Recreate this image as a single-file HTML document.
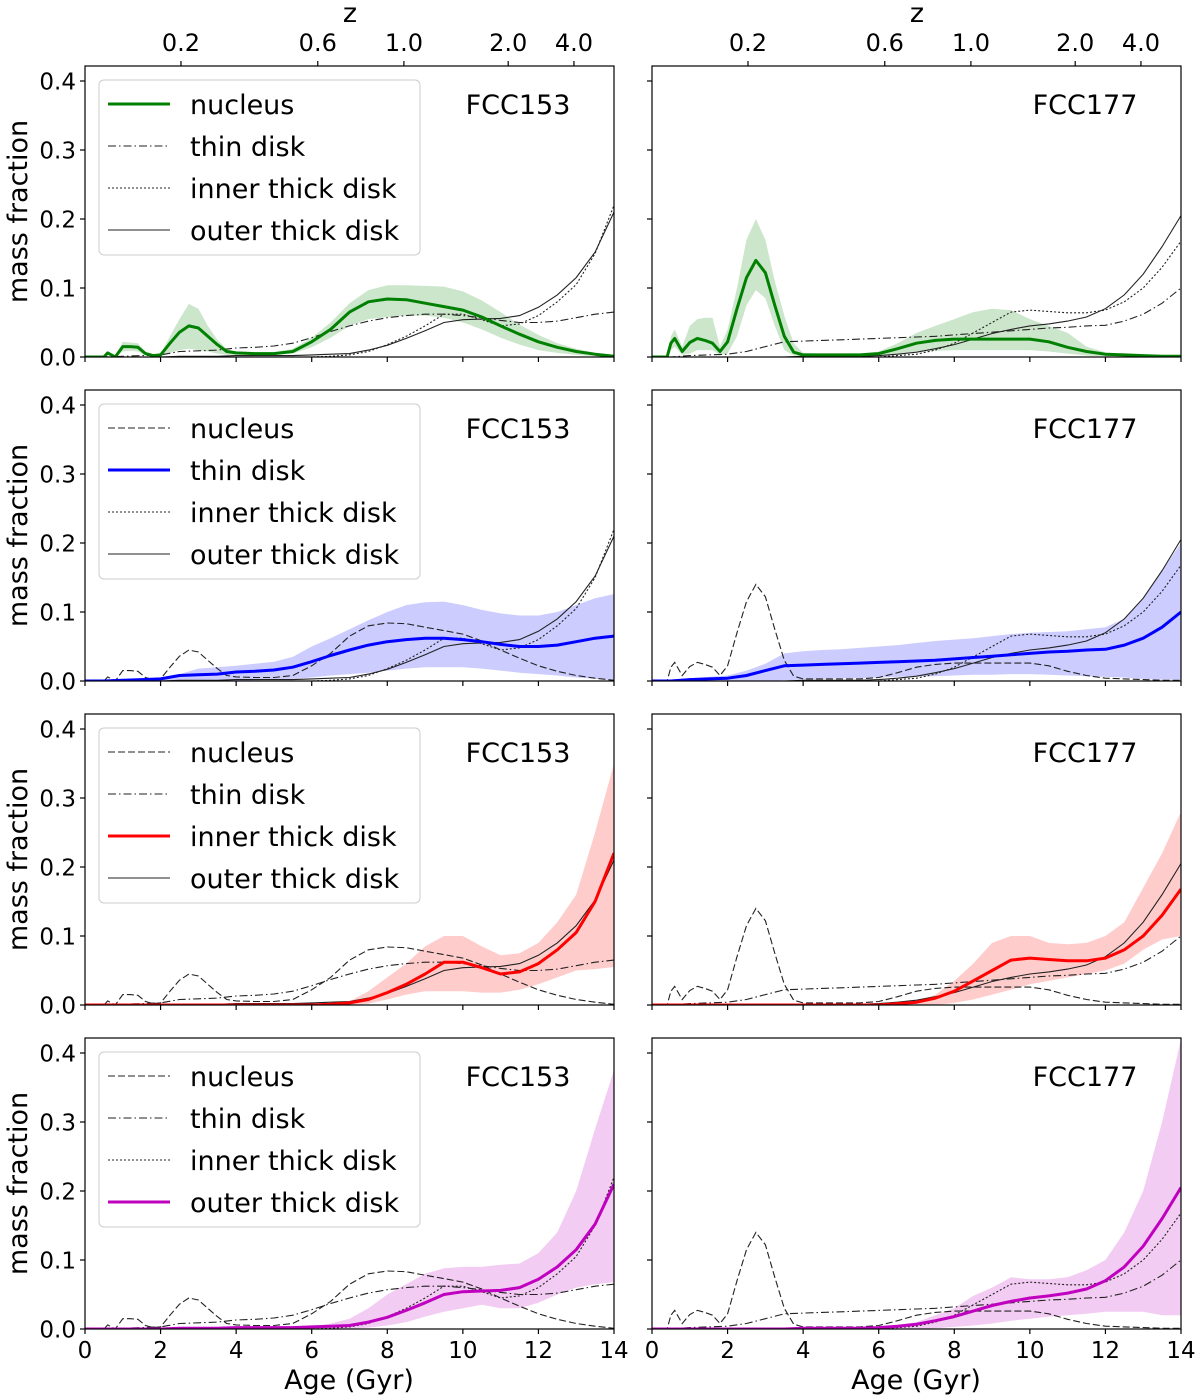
<!DOCTYPE html>
<html><head><meta charset="utf-8"><style>
body{margin:0;background:#fff;}
svg{display:block;font-family:"DejaVu Sans","Liberation Sans",sans-serif;}
</style></head><body>
<svg id="fig" width="1200" height="1399" viewBox="0 0 1200 1399" xmlns="http://www.w3.org/2000/svg"></svg>
<script>
const ageC=[0,0.5,1,1.5,2,2.5,3,3.5,4,4.5,5,5.5,6,6.5,7,7.5,8,8.5,9,9.5,10,10.5,11,11.5,12,12.5,13,13.5,14];
const ageN=[0,0.4,0.5,0.6,0.8,1,1.2,1.4,1.6,1.8,2,2.25,2.5,2.75,3,3.25,3.5,3.75,4,4.5,5,5.5,6,6.5,7,7.5,8,8.5,9,9.5,10,10.5,11,11.5,12,12.5,13,13.5,14];
const nuc153=[0,0,0,0.006,0,0.015,0.015,0.014,0.005,0.002,0.003,0.02,0.036,0.045,0.042,0.03,0.018,0.008,0.006,0.005,0.005,0.008,0.022,0.04,0.065,0.08,0.084,0.083,0.078,0.073,0.068,0.058,0.045,0.033,0.022,0.014,0.008,0.004,0.001];
const nuc153Hi=[0,0,0,0.007,0.001,0.022,0.021,0.02,0.008,0.003,0.005,0.03,0.055,0.077,0.07,0.045,0.025,0.012,0.008,0.007,0.007,0.012,0.028,0.05,0.078,0.097,0.104,0.104,0.103,0.102,0.095,0.082,0.065,0.047,0.032,0.02,0.012,0.006,0.002];
const nuc153Lo=[0,0,0,0.004,0,0.008,0.009,0.008,0.002,0.001,0.001,0.006,0.01,0.012,0.01,0.008,0.005,0.003,0.003,0.003,0.003,0.005,0.014,0.028,0.045,0.055,0.058,0.06,0.06,0.057,0.05,0.04,0.028,0.018,0.01,0.006,0.003,0.001,0];
const nuc177=[0,0,0.02,0.027,0.008,0.021,0.027,0.024,0.02,0.008,0.022,0.07,0.115,0.14,0.122,0.075,0.03,0.007,0.003,0.003,0.003,0.003,0.005,0.012,0.02,0.024,0.026,0.026,0.026,0.026,0.026,0.022,0.014,0.008,0.004,0.003,0.002,0.001,0.001];
const nuc177Hi=[0,0,0.03,0.04,0.015,0.045,0.055,0.057,0.057,0.015,0.04,0.1,0.17,0.2,0.17,0.11,0.06,0.02,0.006,0.005,0.005,0.005,0.008,0.02,0.035,0.045,0.055,0.065,0.07,0.068,0.055,0.045,0.035,0.015,0.007,0.004,0.003,0.002,0.002];
const nuc177Lo=[0,0,0.01,0.015,0.003,0.005,0.01,0.01,0.01,0.003,0.005,0.03,0.075,0.097,0.085,0.045,0.01,0.002,0.001,0.001,0.001,0.001,0.002,0.005,0.008,0.009,0.01,0.01,0.01,0.01,0.01,0.008,0.005,0.002,0.001,0,0,0,0];
const thin153=[0,0,0.001,0.002,0.003,0.008,0.009,0.01,0.013,0.014,0.016,0.02,0.028,0.037,0.045,0.052,0.057,0.06,0.062,0.062,0.06,0.057,0.053,0.05,0.05,0.052,0.057,0.062,0.065];
const thin153Hi=[0,0.001,0.002,0.003,0.005,0.01,0.018,0.02,0.022,0.025,0.028,0.035,0.05,0.062,0.075,0.088,0.1,0.11,0.114,0.115,0.11,0.103,0.098,0.095,0.095,0.1,0.11,0.12,0.126];
const thin153Lo=[0,0,0,0,0,0,0,0,0,0.001,0.002,0.003,0.005,0.008,0.01,0.012,0.015,0.018,0.02,0.02,0.02,0.018,0.015,0.012,0.01,0.008,0.005,0.003,0.001];
const thin177=[0,0,0.002,0.003,0.004,0.008,0.015,0.022,0.023,0.024,0.025,0.026,0.027,0.028,0.029,0.03,0.032,0.034,0.036,0.038,0.04,0.042,0.043,0.045,0.046,0.052,0.062,0.078,0.1];
const thin177Hi=[0,0.002,0.004,0.006,0.008,0.015,0.025,0.04,0.043,0.045,0.046,0.048,0.05,0.052,0.055,0.058,0.06,0.062,0.065,0.068,0.07,0.071,0.072,0.075,0.078,0.09,0.12,0.16,0.2];
const thin177Lo=[0,0,0,0,0,0,0,0.001,0.002,0.003,0.004,0.004,0.005,0.006,0.007,0.007,0.008,0.009,0.009,0.01,0.01,0.009,0.008,0.007,0.006,0.005,0.003,0.002,0.002];
const inner153=[0,0,0,0,0,0,0,0,0,0,0,0,0,0.001,0.003,0.008,0.018,0.03,0.045,0.062,0.062,0.054,0.045,0.048,0.06,0.08,0.105,0.15,0.22];
const inner153Hi=[0,0,0,0,0,0,0,0,0,0,0,0,0,0.001,0.005,0.02,0.04,0.06,0.085,0.1,0.1,0.085,0.072,0.075,0.09,0.12,0.16,0.25,0.35];
const inner153Lo=[0,0,0,0,0,0,0,0,0,0,0,0,0,0,0,0.002,0.008,0.015,0.02,0.02,0.02,0.018,0.018,0.022,0.03,0.04,0.05,0.052,0.055];
const inner177=[0,0,0,0,0,0,0,0,0,0,0,0,0,0.002,0.004,0.01,0.02,0.035,0.05,0.065,0.068,0.066,0.064,0.064,0.068,0.08,0.1,0.13,0.168];
const inner177Hi=[0,0,0,0,0,0,0,0,0,0,0,0,0,0.002,0.005,0.015,0.035,0.06,0.09,0.1,0.1,0.09,0.088,0.09,0.1,0.12,0.17,0.22,0.28];
const inner177Lo=[0,0,0,0,0,0,0,0,0,0,0,0,0,0,0,0,0.003,0.008,0.015,0.022,0.03,0.035,0.04,0.045,0.05,0.06,0.08,0.095,0.1];
const outer153=[0,0,0,0,0,0.001,0.001,0.001,0.002,0.002,0.002,0.002,0.003,0.004,0.005,0.01,0.017,0.027,0.038,0.05,0.054,0.055,0.056,0.06,0.072,0.09,0.115,0.152,0.21];
const outer153Hi=[0,0,0,0,0,0,0,0,0.001,0.001,0.002,0.002,0.003,0.008,0.015,0.03,0.05,0.065,0.08,0.088,0.09,0.09,0.093,0.095,0.11,0.14,0.2,0.29,0.375];
const outer153Lo=[0,0,0,0,0,0,0,0,0,0,0,0,0,0,0,0.002,0.005,0.01,0.018,0.025,0.03,0.035,0.03,0.03,0.038,0.05,0.06,0.065,0.068];
const outer177=[0,0,0,0,0,0,0,0,0.001,0.001,0.001,0.001,0.002,0.004,0.007,0.012,0.018,0.026,0.034,0.04,0.045,0.048,0.052,0.058,0.07,0.09,0.12,0.16,0.205];
const outer177Hi=[0,0,0,0,0,0,0,0,0,0,0,0,0.003,0.006,0.01,0.02,0.03,0.048,0.06,0.075,0.072,0.072,0.075,0.085,0.1,0.14,0.2,0.3,0.42];
const outer177Lo=[0,0,0,0,0,0,0,0,0,0,0,0,0,0,0,0.001,0.003,0.005,0.008,0.012,0.015,0.018,0.02,0.022,0.025,0.025,0.025,0.02,0.02];
const xTicks=[0,2,4,6,8,10,12,14];
const yTicks=[0,0.1,0.2,0.3,0.4];
const yTickLabels=["0.0","0.1","0.2","0.3","0.4"];
const zAges=[2.54,6.16,8.44,11.2,12.94];
const zLabels=["0.2","0.6","1.0","2.0","4.0"];

const NS="http://www.w3.org/2000/svg";
const svg=document.getElementById('fig');
function mk(tag,attrs,parent){const e=document.createElementNS(NS,tag);for(const k in attrs)e.setAttribute(k,attrs[k]);(parent||svg).appendChild(e);return e;}
const colLeft=[85,652], W=529, H=291, rowTop=[66,390,714,1038], YMAX=H/690;
const gal=[
 {name:"FCC153",series:{nucleus:[ageN,nuc153,nuc153Hi,nuc153Lo],thin:[ageC,thin153,thin153Hi,thin153Lo],inner:[ageC,inner153,inner153Hi,inner153Lo],outer:[ageC,outer153,outer153Hi,outer153Lo]}},
 {name:"FCC177",series:{nucleus:[ageN,nuc177,nuc177Hi,nuc177Lo],thin:[ageC,thin177,thin177Hi,thin177Lo],inner:[ageC,inner177,inner177Hi,inner177Lo],outer:[ageC,outer177,outer177Hi,outer177Lo]}}
];
const keys=["nucleus","thin","inner","outer"];
const labels={nucleus:"nucleus",thin:"thin disk",inner:"inner thick disk",outer:"outer thick disk"};
const dash={nucleus:"7,3",thin:"8,3,1.5,3",inner:"2,2",outer:""};
const hcol={nucleus:"#008000",thin:"#0000ff",inner:"#ff0000",outer:"#bf00bf"};
const bcol={nucleus:"#cce6cc",thin:"#ccccff",inner:"#ffcccc",outer:"#f2ccf2"};

for(let r=0;r<4;r++){
 const hk=keys[r];
 for(let c=0;c<2;c++){
  const x0=colLeft[c], y0=rowTop[r];
  const xs=a=>x0+a/14*W, ys=v=>y0+H-v/YMAX*H;
  const g=mk('g',{});
  
  
  mk('defs',{},g).innerHTML=`<clipPath id="cp${r}${c}"><rect x="${x0}" y="${y0}" width="${W}" height="${H}"/></clipPath>`;
  const pg=mk('g',{'clip-path':`url(#cp${r}${c})`},g);
  const s=gal[c].series[hk];
  let d='';
  s[0].forEach((a,i)=>{d+=(i?'L':'M')+xs(a).toFixed(1)+','+ys(s[2][i]).toFixed(1);});
  for(let i=s[0].length-1;i>=0;i--)d+='L'+xs(s[0][i]).toFixed(1)+','+ys(s[3][i]).toFixed(1);
  const band=mk('path',{d:d+'Z',fill:bcol[hk],stroke:'none'},pg);
  
  
  keys.forEach(k=>{
   if(k===hk)return;
   const ss=gal[c].series[k];
   const p=mk('path',{d:ss[0].map((a,i)=>(i?'L':'M')+xs(a).toFixed(1)+','+ys(ss[1][i]).toFixed(1)).join(''),fill:'none',stroke:'#222','stroke-width':1.1,'stroke-dasharray':dash[k]},pg);
   
   
  });
  const hp=mk('path',{d:s[0].map((a,i)=>(i?'L':'M')+xs(a).toFixed(1)+','+ys(s[1][i]).toFixed(1)).join(''),fill:'none',stroke:hcol[hk],'stroke-width':3,'stroke-linejoin':'round'},pg);
  
  
  mk('rect',{x:x0,y:y0,width:W,height:H,fill:'none',stroke:'#000','stroke-width':1.2},g);
  yTicks.forEach((t,i)=>{
   mk('line',{x1:x0-5,x2:x0,y1:ys(t),y2:ys(t),stroke:'#000','stroke-width':1.2},g);
   if(c===0){const tx=mk('text',{x:x0-9,y:ys(t)+8.5,'font-size':23,'text-anchor':'end'},g);tx.textContent=yTickLabels[i];
    }
  });
  xTicks.forEach(t=>{
   mk('line',{x1:xs(t),x2:xs(t),y1:y0+H,y2:y0+H+5,stroke:'#000','stroke-width':1.2},g);
   if(r===3){const tx=mk('text',{x:xs(t),y:y0+H+29,'font-size':23,'text-anchor':'middle'},g);tx.textContent=t;
    }
  });
  if(r===0){
   zAges.forEach((a,i)=>{
    mk('line',{x1:xs(a),x2:xs(a),y1:y0,y2:y0-5,stroke:'#000','stroke-width':1.2},g);
    const tx=mk('text',{x:xs(a),y:y0-15,'font-size':24,'text-anchor':'middle'},g);tx.textContent=zLabels[i];
    
   });
   const zt=mk('text',{x:x0+265,y:22,'font-size':27,'text-anchor':'middle'},g);zt.textContent='z';
   
  }
  if(r===3){const at=mk('text',{x:x0+264,y:1389,'font-size':27,'text-anchor':'middle'},g);at.textContent='Age (Gyr)';
   }
  if(c===0){const yt=mk('text',{x:0,y:0,'font-size':27,'text-anchor':'middle',transform:`translate(27,${y0+H/2}) rotate(-90)`},g);yt.textContent='mass fraction';
   }
  const gl=mk('text',{x:x0+433,y:y0+48,'font-size':27,'text-anchor':'middle'},g);gl.textContent=gal[c].name;
  
  if(c===0){
   const lg=mk('g',{},g);
   
   
   mk('rect',{x:99,y:y0+14,width:321,height:175,rx:5,fill:'#fff','fill-opacity':0.8,stroke:'#ccc','stroke-width':1},lg);
   keys.forEach((k,i)=>{
    const ly=y0+38+i*42;
    const e=mk('g',{},lg);
    
    
    if(k===hk)mk('line',{x1:108,x2:170,y1:ly,y2:ly,stroke:hcol[k],'stroke-width':3},e);
    else mk('line',{x1:108,x2:170,y1:ly,y2:ly,stroke:'#222','stroke-width':1.1,'stroke-dasharray':dash[k]},e);
    const t=mk('text',{x:190,y:ly+10,'font-size':27},e);t.textContent=labels[k];
   });
  }
 }
}
</script>
</body></html>
